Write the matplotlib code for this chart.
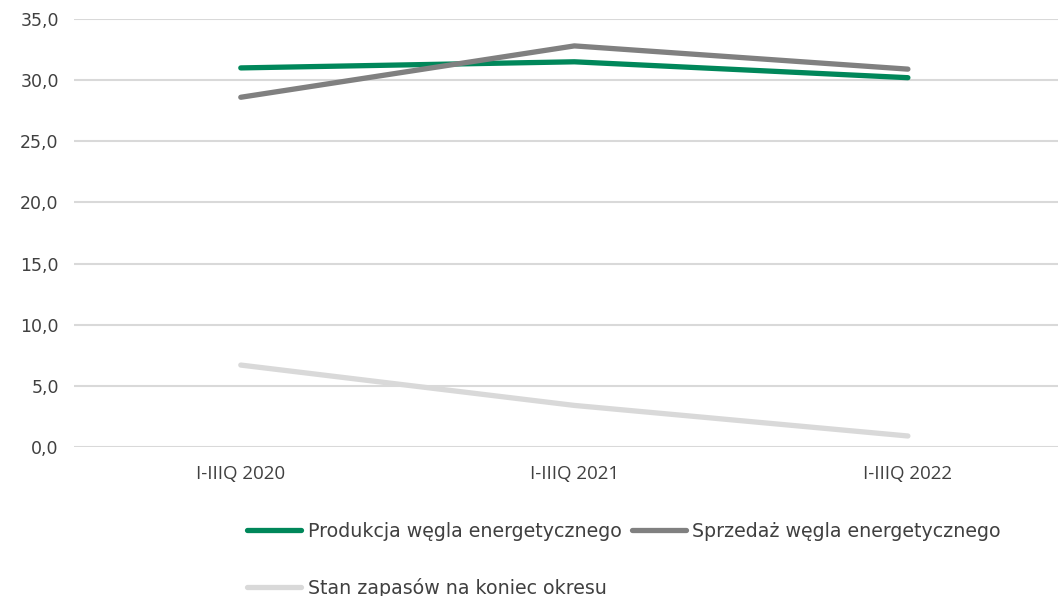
import matplotlib
matplotlib.use("Agg")
import matplotlib.pyplot as plt
from matplotlib.lines import Line2D

categories = ["I-IIIQ 2020", "I-IIIQ 2021", "I-IIIQ 2022"]
produkcja = [31.0, 31.5, 30.2]
sprzedaz = [28.6, 32.8, 30.9]
zapasy = [6.7, 3.4, 0.9]
labels = ["Produkcja węgla energetycznego", "Sprzedaż węgla energetycznego",
          "Stan zapasów na koniec okresu"]
y_ticks = [0, 5, 10, 15, 20, 25, 30, 35]

colors = ["#00875A", "#808080", "#D9D9D9"]

fig = plt.figure(figsize=(10.58, 5.96), dpi=100)
W, H = 1058, 596
ax = fig.add_axes([74 / W, 1 - 447 / H, (1058 - 74) / W, (447 - 19) / H])

x = list(range(len(categories)))
series = [produkcja, sprzedaz, zapasy]
lines = []
for s, c, l in zip(series, colors, labels):
    ln, = ax.plot(x, s, color=c, lw=3.8, solid_capstyle="round", label=l, zorder=3)
    lines.append(ln)

ax.set_xlim(-0.5, 2.45)
ax.set_ylim(0, 35)
ax.set_yticks(y_ticks)
ax.set_yticklabels([f"{v:.1f}".replace(".", ",") for v in y_ticks],
                   fontsize=12.5, color="#404040", family="DejaVu Sans")
ax.set_xticks(x)
ax.set_xticklabels(categories, fontsize=13.5, color="#404040", family="Open Sans")
ax.tick_params(axis="both", length=0)
ax.tick_params(axis="y", pad=11)
ax.tick_params(axis="x", pad=13)
ax.yaxis.grid(True, color="#D9D9D9", lw=1.5)
ax.set_axisbelow(True)
for sp in ax.spines.values():
    sp.set_visible(False)

handles = [lines[0], lines[2], lines[1]]
hl = [labels[0], labels[2], labels[1]]
leg = fig.legend(handles, hl, ncol=2, loc="upper left",
                 bbox_to_anchor=(247 / W, 1 - 522 / H), frameon=False,
                 prop={"family": "DejaVu Sans", "size": 13.7},
                 handlelength=2.85, handletextpad=0.33, columnspacing=0.55,
                 labelspacing=1.95, borderaxespad=0, borderpad=0)
for t in leg.get_texts():
    t.set_color("#404040")

fig.savefig("out.png", dpi=100)
